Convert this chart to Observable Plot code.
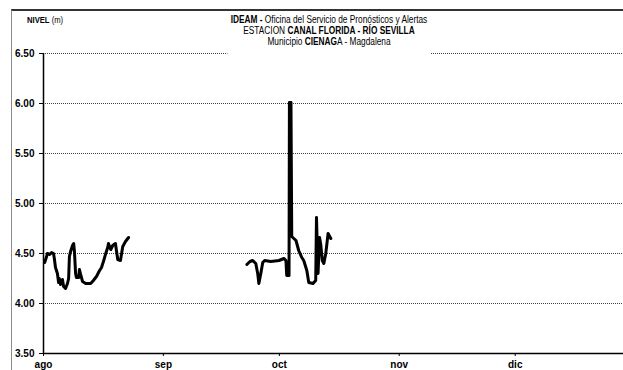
<!DOCTYPE html>
<html>
<head>
<meta charset="utf-8">
<script src="https://cdn.jsdelivr.net/npm/d3@7"></script>
<script src="https://cdn.jsdelivr.net/npm/@observablehq/plot@0.6"></script>
<style>
  html, body { margin: 0; padding: 0; background: white; }
  #wrap { position: relative; width: 623px; height: 370px; overflow: hidden; font-family: "Liberation Sans", Arial, sans-serif; }
  #frame { position: absolute; left: 11px; top: 9px; width: 700px; height: 500px; border-left: 1px solid #8a8a8a; border-top: 2px solid #333; pointer-events: none; }
  #title { position: absolute; top: 14px; left: 329px; transform: translateX(-50%) scaleX(0.83); background: white; text-align: center; font-family: "Liberation Sans", Arial, sans-serif; font-size: 10px; line-height: 11px; padding: 0 4px 8px 4px; white-space: nowrap; color: #000; }
  #ylab { position: absolute; top: 15px; left: 27px; transform-origin: left top; transform: scaleX(0.9); font-family: "Liberation Sans", Arial, sans-serif; font-size: 8.5px; color: #000; white-space: nowrap; }
  #chart { position: absolute; left: 0; top: 0; }
</style>
</head>
<body>
<div id="wrap">
  <div id="chart"></div>
  <div id="frame"></div>
  <div id="ylab"><b>NIVEL</b> (m)</div>
  <div id="title">
    <div><b>IDEAM -</b> Oficina del Servicio de Pronósticos y Alertas</div>
    <div>ESTACION <b>CANAL FLORIDA - RÍO SEVILLA</b></div>
    <div>Municipio <b>CIENAG</b>A - Magdalena</div>
  </div>
</div>
<script>
// Day offsets from 1 Aug and water level (m)
const days1 = [0.3,0.8,1.0,1.6,2.1,2.6,2.8,3.1,3.6,3.9,4.1,4.4,4.9,5.2,5.7,6.2,6.5,6.7,7.0,7.5,7.8,8.0,8.3,8.5,9.1,9.3,9.6,10.1,10.9,12.2,12.9,13.7,14.5,15.0,15.5,16.1,16.6,16.8,17.4,17.9,18.6,18.9,19.2,19.9,20.2,20.5,21.2,22.0];
const level1 = [4.41,4.47,4.50,4.49,4.51,4.50,4.45,4.36,4.30,4.21,4.25,4.19,4.24,4.17,4.15,4.20,4.25,4.47,4.52,4.58,4.60,4.52,4.30,4.26,4.26,4.34,4.29,4.22,4.20,4.20,4.23,4.27,4.33,4.36,4.42,4.50,4.56,4.60,4.54,4.58,4.60,4.52,4.44,4.43,4.50,4.57,4.62,4.66];
const days2 = [52.6,53.4,54.1,54.9,55.4,55.7,56.2,56.7,57.2,58.8,60.9,62.2,62.7,62.9,63.5,63.6,64.0,64.2,65.3,66.0,66.8,67.3,68.1,68.6,69.7,70.4,70.6,71.0,71.4,71.7,72.1,72.5,73.0,73.6,74.3];
const level2 = [4.39,4.42,4.43,4.40,4.30,4.20,4.30,4.41,4.43,4.42,4.43,4.45,4.43,4.28,4.28,6.01,6.01,4.67,4.63,4.53,4.46,4.43,4.33,4.21,4.20,4.23,4.86,4.30,4.66,4.59,4.43,4.40,4.50,4.70,4.65];
const monthLabels = ["ago","sep","oct","nov","dic"];
const yTicks = [3.5,4.0,4.5,5.0,5.5,6.0,6.5];

const base = Date.UTC(2008,7,1);
const DAY = 86400000;
const data = [
  ...days1.map((d,i) => ({date: new Date(base + d*DAY), level: level1[i], s: 1})),
  ...days2.map((d,i) => ({date: new Date(base + d*DAY), level: level2[i], s: 2}))
];
const monthTicks = monthLabels.map((_, i) => new Date(Date.UTC(2008, 7 + i, 1)));

const chart = Plot.plot({
  width: 623,
  height: 370,
  marginLeft: 43,
  marginRight: 0,
  marginTop: 53,
  marginBottom: 17,
  style: {background: "transparent", fontFamily: "Liberation Sans, Arial, sans-serif", fontSize: "10px", fontWeight: "bold", color: "#000"},
  x: {type: "utc", domain: [new Date(base), new Date(Date.UTC(2008,11,29))]},
  y: {domain: [3.5, 6.5]},
  marks: [
    Plot.gridY(yTicks, {stroke: "#444", strokeOpacity: 1, strokeDasharray: "1,1", strokeWidth: 1}),
    Plot.ruleY([3.5], {stroke: "#000", strokeWidth: 1.5}),
    Plot.ruleX([new Date(base)], {stroke: "#000", strokeWidth: 1.5}),
    Plot.axisY({ticks: yTicks, tickFormat: d => d.toFixed(2), tickSize: 4, tickPadding: 5, label: null, fontWeight: "bold", fontSize: 10}),
    Plot.axisX({ticks: monthTicks, tickFormat: (d, i) => monthLabels[i], tickSize: 3, tickPadding: 4, label: null, fontWeight: "bold", fontSize: 10}),
    Plot.line(data, {x: "date", y: "level", z: "s", stroke: "#000", strokeWidth: 3, strokeLinejoin: "round", strokeLinecap: "round"})
  ]
});
document.getElementById("chart").appendChild(chart);
</script>
</body>
</html>
